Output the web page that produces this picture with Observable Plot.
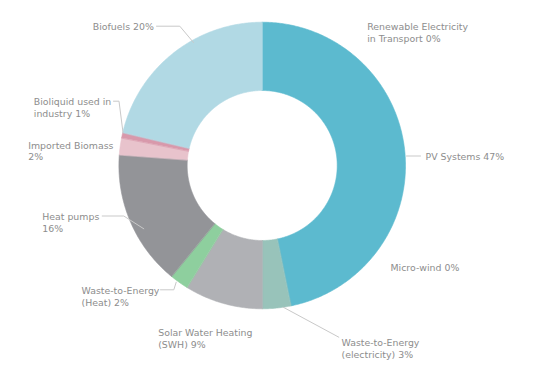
<!DOCTYPE html>
<html>
<head>
<meta charset="utf-8">
<script src="https://cdn.jsdelivr.net/npm/d3@7"></script>
<script src="https://cdn.jsdelivr.net/npm/@observablehq/plot@0.6"></script>
<style>
  html, body { margin: 0; padding: 0; background: #ffffff; }
  #chart { width: 535px; height: 378px; }
</style>
</head>
<body>
<div id="chart"></div>
<script>
// ---- Data (clockwise from 12 o'clock) ----
const categories = [
  "PV Systems", "Micro-wind", "Waste-to-Energy (electricity)", "Solar Water Heating (SWH)",
  "Waste-to-Energy (Heat)", "Heat pumps", "Imported Biomass", "Bioliquid used in industry",
  "Biofuels", "Renewable Electricity in Transport"
];
const shares = [46.8, 0, 3.2, 8.8, 2.1, 15.3, 1.9, 0.6, 21.3, 0];
const labels = [
  "PV Systems 47%", "Micro-wind 0%", "Waste-to-Energy\n(electricity) 3%", "Solar Water Heating\n(SWH) 9%",
  "Waste-to-Energy\n(Heat) 2%", "Heat pumps\n16%", "Imported Biomass\n2%", "Bioliquid used in\nindustry 1%",
  "Biofuels 20%", "Renewable Electricity\nin Transport 0%"
];
const colors = ["#5cbacf", "#5cbacf", "#98c3ba", "#b0b1b5", "#8ecf9e", "#939498", "#e8c3cc", "#d899ab", "#b1d9e4", "#b1d9e4"];

// ---- Layout (pixel frame of the chart) ----
const W = 535, H = 378;
const center = [261.7, 165];
const rOuter = 143.3, rInner = 75;
const labelPos = [
  [425, 155.5], [390, 266.7], [341, 341.7], [157.7, 331.7], [81, 290],
  [41.7, 216], [27.7, 144.3], [33.3, 100.7], [92.3, 25.7], [366.7, 25.7]
];
const leaderPaths = [
  [[406, 155.5], [420, 155.5]],
  null,
  [[338.3, 336.7], [282.7, 306.7]],
  null,
  [[160, 289.3], [173.3, 289.3], [175.7, 281.7]],
  [[101.7, 215.5], [123.3, 215.5], [143.3, 228.3]],
  null,
  [[113, 100.7], [118.5, 100.7], [122.5, 132]],
  [[156, 25.7], [179.3, 25.7], [193, 42]],
  null
];
const fontSize = 9.4, lineH = 11.6;

// ---- Build slice polygons from the values ----
const total = d3.sum(shares);
const slices = [];
let acc = 0;
categories.forEach((name, i) => {
  const a0 = acc / total * 2 * Math.PI;
  acc += shares[i];
  const a1 = acc / total * 2 * Math.PI;
  if (shares[i] <= 0) return;
  const n = Math.max(4, Math.ceil((a1 - a0) / (Math.PI / 360)));
  const pts = [];
  for (let k = 0; k <= n; k++) {
    const a = a0 + (a1 - a0) * k / n;
    pts.push({name, x: center[0] + rOuter * Math.sin(a), y: center[1] - rOuter * Math.cos(a)});
  }
  for (let k = n; k >= 0; k--) {
    const a = a0 + (a1 - a0) * k / n;
    pts.push({name, x: center[0] + rInner * Math.sin(a), y: center[1] - rInner * Math.cos(a)});
  }
  slices.push(...pts);
});

const textData = labels.map((t, i) => {
  const nLines = t.split("\n").length;
  return {text: t, x: labelPos[i][0], y: labelPos[i][1] + (nLines - 1) * lineH / 2};
});
const leaderData = [];
leaderPaths.forEach((p, i) => {
  if (!p) return;
  p.forEach(([x, y]) => leaderData.push({name: categories[i], x, y}));
});

const plot = Plot.plot({
  width: W, height: H,
  margin: 0,
  x: {domain: [0, W], range: [0, W], axis: null},
  y: {domain: [0, H], range: [0, H], axis: null},
  color: {domain: categories, range: colors},
  style: {background: "#ffffff", fontFamily: "DejaVu Sans, sans-serif"},
  marks: [
    Plot.line(slices, {x: "x", y: "y", z: "name", fill: "name", stroke: "name", strokeWidth: 0.6, curve: "linear-closed"}),
    Plot.line(leaderData, {x: "x", y: "y", z: "name", stroke: "#c9c9c9", strokeWidth: 1}),
    Plot.text(textData, {x: "x", y: "y", text: "text", textAnchor: "start", lineAnchor: "middle",
      lineHeight: lineH / fontSize, fontSize: fontSize, fill: "#8d8d8d"})
  ]
});
document.getElementById("chart").appendChild(plot);
</script>
</body>
</html>
